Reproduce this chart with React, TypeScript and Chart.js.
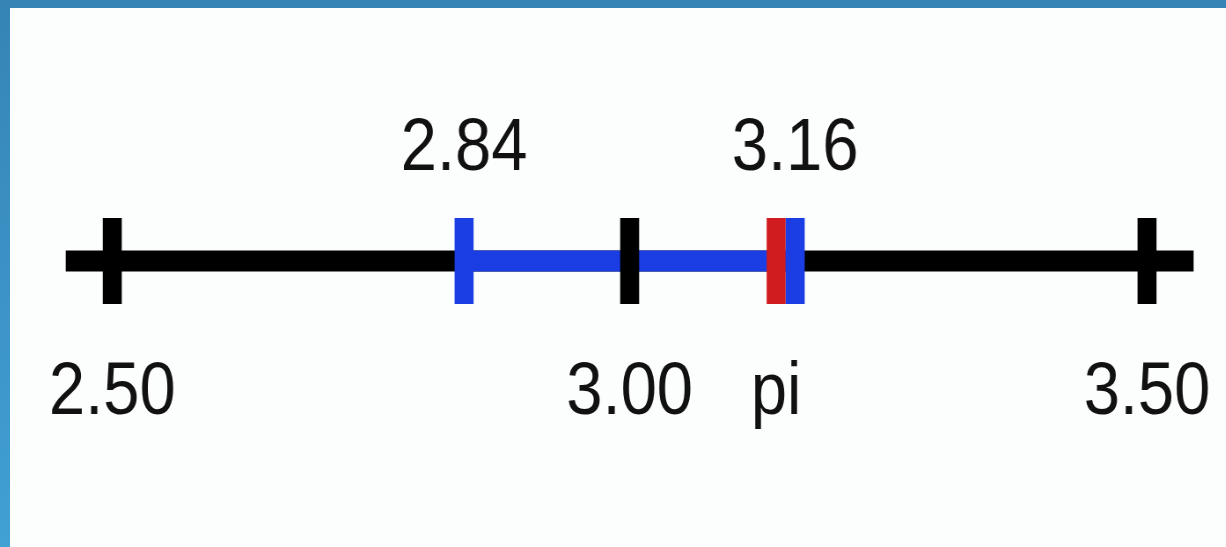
import React, { useEffect, useRef } from "react";
import { Chart, registerables } from "chart.js";

Chart.register(...registerables);

// ---- data ----
const axisLineRange = [2.455, 3.545];
const axisTickValues = [2.5, 3.0, 3.5];
const axisTickLabels = ["2.50", "3.00", "3.50"];
const intervalBounds = [2.84, 3.16];
const intervalLabels = ["2.84", "3.16"];
const piValue = 3.14159;
const piLabel = "pi";
const bottomTickValues = [2.5, 3.0, piValue, 3.5];
const bottomTickLabels = [axisTickLabels[0], axisTickLabels[1], piLabel, axisTickLabels[2]];
const scaleMin = 2.4;
const scaleMax = 3.6;

const BLACK = "#000000";
const BLUE = "#1b3de4";
const RED = "#d01c1f";
const FONT = "'Liberation Sans', Arial, Helvetica, sans-serif";
const X_SQUEEZE = 0.88;
const CANVAS_W = 1450;
const CANVAS_H = 547;

export default function App() {
  const ref = useRef<HTMLCanvasElement | null>(null);

  useEffect(() => {
    if (!ref.current) return;
    const tickStyle = (color: string) => ({
      pointStyle: "line" as const,
      pointRotation: 90,
      pointRadius: 43,
      pointHoverRadius: 43,
      pointBorderWidth: 21.6,
      pointHoverBorderWidth: 21.6,
      pointBorderColor: color,
      pointBackgroundColor: color,
      showLine: false,
      clip: false as any,
    });
    const chart = new Chart(ref.current, {
      type: "scatter",
      data: {
        datasets: [
          {
            label: "axis ticks",
            data: axisTickValues.map((v) => ({ x: v, y: 0 })),
            ...tickStyle(BLACK),
            order: 0,
          },
          {
            label: "interval ends",
            data: intervalBounds.map((v) => ({ x: v, y: 0 })),
            ...tickStyle(BLUE),
            order: 0,
          },
          {
            label: "pi",
            data: [{ x: piValue, y: 0 }],
            ...tickStyle(RED),
            order: 0,
          },
          {
            label: "interval",
            data: intervalBounds.map((v) => ({ x: v, y: 0 })),
            showLine: true,
            borderColor: BLUE,
            borderWidth: 21,
            borderCapStyle: "butt",
            pointRadius: 0,
            pointHoverRadius: 0,
            order: 1,
          },
          {
            label: "axis",
            data: axisLineRange.map((v) => ({ x: v, y: 0 })),
            showLine: true,
            borderColor: BLACK,
            borderWidth: 21,
            borderCapStyle: "butt",
            pointRadius: 0,
            pointHoverRadius: 0,
            order: 2,
          },
        ],
      },
      options: {
        responsive: false,
        animation: false,
        events: [],
        layout: { autoPadding: false, padding: { left: 10, right: 29, top: 98.8, bottom: 82.2 } },
        plugins: { legend: { display: false }, tooltip: { enabled: false } },
        scales: {
          x: {
            type: "linear",
            position: "bottom",
            min: scaleMin,
            max: scaleMax,
            grid: { display: false, drawTicks: false },
            border: { display: false },
            afterBuildTicks: (scale: any) => {
              scale.ticks = bottomTickValues.map((v) => ({ value: v }));
            },
            ticks: {
              autoSkip: false,
              maxRotation: 0,
              minRotation: 0,
              padding: 27,
              color: "#111111",
              font: { size: 74, family: FONT },
              callback: (_v: any, i: number) => bottomTickLabels[i],
            },
          },
          xTop: {
            type: "linear",
            position: "top",
            min: scaleMin,
            max: scaleMax,
            grid: { display: false, drawTicks: false },
            border: { display: false },
            afterBuildTicks: (scale: any) => {
              scale.ticks = intervalBounds.map((v) => ({ value: v }));
            },
            ticks: {
              autoSkip: false,
              maxRotation: 0,
              minRotation: 0,
              padding: 6.2,
              color: "#111111",
              font: { size: 74, family: FONT },
              callback: (_v: any, i: number) => intervalLabels[i],
            },
          },
          y: { type: "linear", min: -1, max: 1, display: false },
        },
      },
    } as any);
    return () => chart.destroy();
  }, []);

  return (
    <div
      style={{
        position: "fixed",
        left: 0,
        top: 0,
        width: 1226,
        height: 547,
        overflow: "hidden",
        background: "linear-gradient(to bottom, #3684b6, #41a0d4)",
      }}
    >
      <div
        style={{
          position: "absolute",
          left: 10,
          top: 8,
          right: 0,
          bottom: 0,
          background: "#fcfefd",
        }}
      />
      <div
        style={{
          position: "absolute",
          left: 0,
          top: 0,
          width: CANVAS_W,
          height: CANVAS_H,
          transform: `scaleX(${X_SQUEEZE})`,
          transformOrigin: "0 0",
        }}
      >
        <canvas ref={ref} width={CANVAS_W} height={CANVAS_H} />
      </div>
    </div>
  );
}
